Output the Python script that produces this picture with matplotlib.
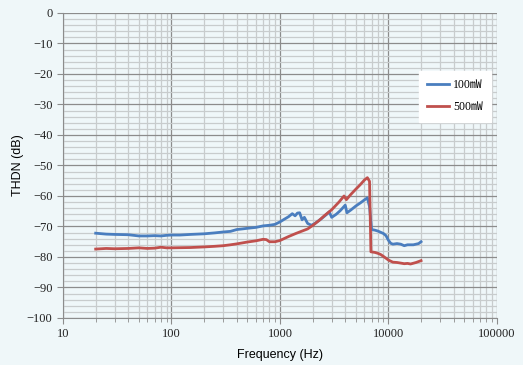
import numpy as np
import matplotlib
matplotlib.use('Agg')
import matplotlib.pyplot as plt
from matplotlib.ticker import LogLocator, MultipleLocator, NullFormatter

freq_100 = [20, 25, 30, 40, 50, 60, 70, 80, 90, 100, 120, 150, 200, 250, 300, 350, 400, 450, 500,
            600, 700, 800, 900, 1000, 1100, 1200, 1300, 1380, 1450, 1520, 1600, 1680, 1800, 1950,
            2100, 2400, 2700, 2850, 3000, 3300, 3600, 4000, 4150, 4500, 5000, 5500, 6000, 6400,
            6700, 7000, 7500, 8000, 9000, 9500, 10000, 10500, 11000, 12000, 13000, 14000, 15000,
            17000, 19000, 20000]
thdn_100 = [-72.2, -72.5, -72.6, -72.7, -73.1, -73.1, -73.0, -73.1, -72.9, -72.8, -72.8, -72.6,
            -72.4, -72.1, -71.8, -71.6, -71.0, -70.8, -70.6, -70.3, -69.8, -69.6, -69.3, -68.5,
            -67.6, -66.8, -65.8, -66.5, -65.6, -65.5, -67.8, -67.0, -69.0, -69.6, -69.0, -67.5,
            -66.0, -65.2, -67.0, -66.0, -64.8, -63.0, -65.5, -64.6, -63.3, -62.3, -61.3, -60.6,
            -63.5, -71.0, -71.2, -71.5, -72.3, -73.0, -74.5, -75.5, -75.8, -75.6, -75.8, -76.3,
            -76.0, -76.0, -75.6, -75.0]

freq_500 = [20, 25, 30, 40, 50, 60, 70, 80, 90, 100, 150, 200, 250, 300, 350, 400, 500, 600, 700,
            750, 800, 900, 1000, 1200, 1400, 1600, 1800, 2000, 2300, 2600, 3000, 3500, 3900, 4100,
            4500, 5000, 5500, 6000, 6400, 6700, 6900, 7500, 8000, 8500, 9000, 10000, 11000, 12000,
            13000, 14000, 15000, 16000, 18000, 20000]
thdn_500 = [-77.4, -77.2, -77.3, -77.2, -77.0, -77.2, -77.1, -76.8, -77.0, -77.0, -76.9, -76.7,
            -76.5, -76.3, -76.0, -75.7, -75.1, -74.7, -74.2, -74.3, -75.0, -75.0, -74.6, -73.3,
            -72.3, -71.5, -70.8, -69.7, -68.0, -66.3, -64.5, -62.0, -60.0, -61.2, -59.5, -57.8,
            -56.3, -54.8, -54.0, -55.2, -78.3, -78.5, -78.8, -79.2, -79.8, -81.0, -81.7, -81.8,
            -82.0, -82.2, -82.1, -82.3, -81.8, -81.2]

bg = '#eff7f9'
fig = plt.figure(figsize=(5.23, 3.65), dpi=100, facecolor=bg)
ax = fig.add_axes([0.1205, 0.1288, 0.8295, 0.8356])
ax.set_facecolor(bg)

ax.plot(freq_100, thdn_100, color='#4a7ebf', lw=2.0, label='100㎽', zorder=3)
ax.plot(freq_500, thdn_500, color='#c0504d', lw=2.0, label='500㎽', zorder=3)

ax.set_xscale('log')
ax.set_xlim(10, 100000)
ax.set_ylim(-100, 0)
ax.yaxis.set_major_locator(MultipleLocator(10))
ax.yaxis.set_minor_locator(MultipleLocator(2))
ax.xaxis.set_minor_locator(LogLocator(base=10, subs=np.arange(2, 10), numticks=20))
ax.xaxis.set_minor_formatter(NullFormatter())
ax.set_xticks([10, 100, 1000, 10000, 100000])
ax.set_xticklabels(['10', '100', '1000', '10000', '100000'])

ax.grid(which='major', color='#8c8c8c', lw=0.9, zorder=1)
ax.grid(which='minor', color='#c8cccd', lw=0.9, zorder=1)
ax.set_axisbelow(True)

for s in ['top', 'right']:
    ax.spines[s].set_visible(False)
for s in ['left', 'bottom']:
    ax.spines[s].set_color('#8c8c8c')
ax.tick_params(which='both', colors='#8c8c8c', labelcolor='#222222', labelsize=9)
ax.tick_params(which='major', length=4)
ax.tick_params(which='minor', length=3)
ax.tick_params(axis='y', which='minor', length=0)
for lbl in ax.get_xticklabels() + ax.get_yticklabels():
    lbl.set_fontfamily('Liberation Serif')

ax.set_xlabel('Frequency (Hz)', fontsize=9, family='Liberation Sans', labelpad=6)
ax.set_ylabel('THDN (dB)', fontsize=9, family='Liberation Sans', labelpad=2)

leg = ax.legend(loc='upper left', bbox_to_anchor=(0.82, 0.81), borderaxespad=0, frameon=True,
                fancybox=False, edgecolor='white', framealpha=1, handlelength=1.9,
                handletextpad=0.3, borderpad=0.7, labelspacing=0.85,
                prop={'family': ['Liberation Serif', 'Noto Sans CJK JP'], 'size': 8.5})

fig.savefig('out.png', dpi=100, facecolor=bg)
